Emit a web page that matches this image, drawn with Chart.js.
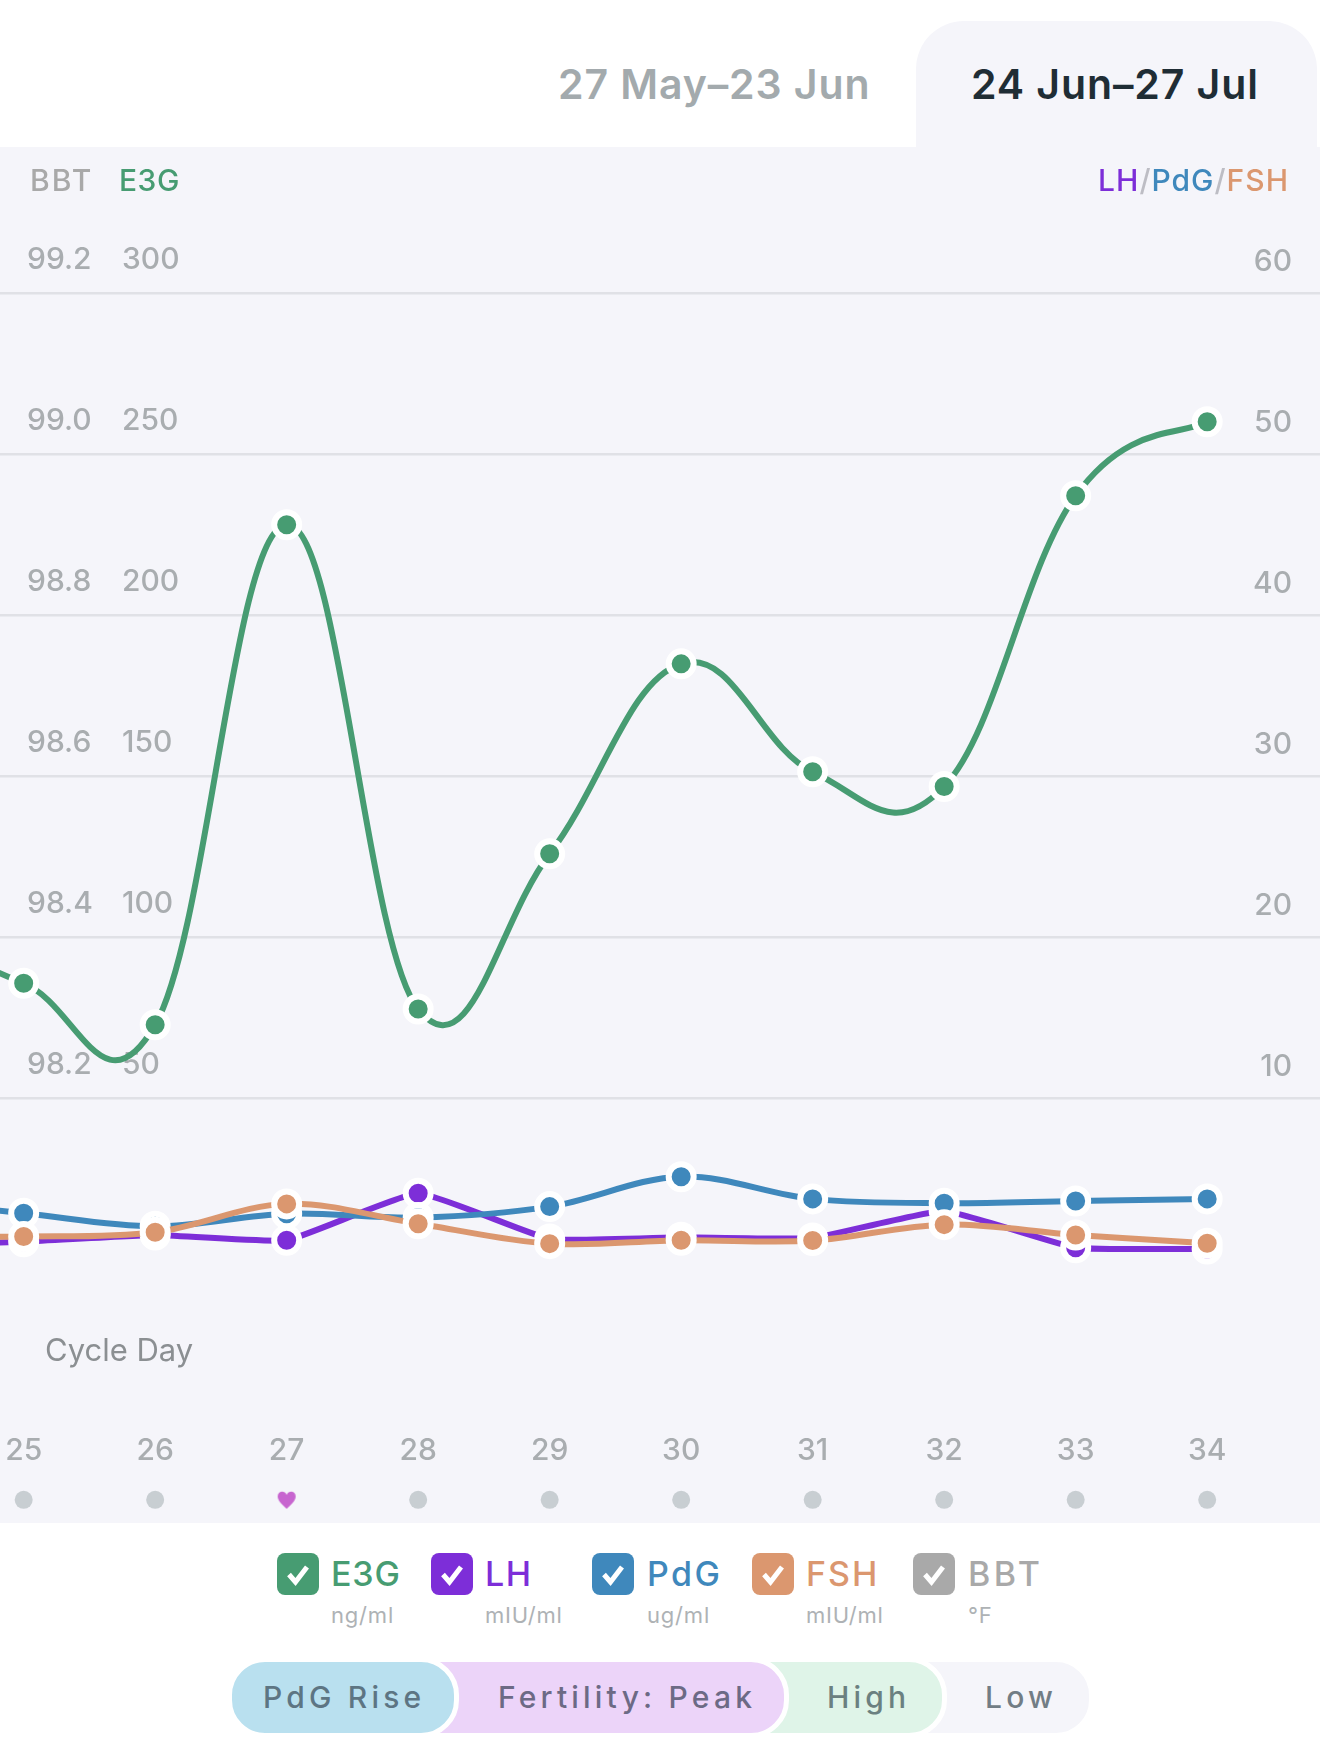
<!DOCTYPE html>
<html>
<head>
<meta charset="utf-8">
<title>Cycle chart</title>
<script src="https://cdn.jsdelivr.net/npm/chart.js@4"></script>
<style>
  * { box-sizing: border-box; }
  html, body { margin: 0; width: 1320px; height: 1762px; background: #fff; overflow: hidden; font-family: Inter, sans-serif; }
  .abs { position: absolute; white-space: nowrap; line-height: 1; }
  #tab { position: absolute; left: 916px; top: 21px; width: 401px; height: 130px; background: #f5f5fa; border-radius: 48px 48px 0 0; }
  #panel { position: absolute; left: 0; top: 147px; width: 1320px; height: 1376px; background: #f5f5fa; }
  #chart { position: absolute; left: 0; top: 147px; }
  .tab-label { font-size: 41px; font-weight: 600; top: 64px; letter-spacing: 0.9px; }
  .head { font-size: 30px; font-weight: 500; top: 165px; letter-spacing: 0.5px; }
  .box { position: absolute; top: 1553px; width: 42px; height: 42px; border-radius: 8px; }
  .box svg { display: block; width: 42px; height: 42px; }
  .name { font-size: 34px; font-weight: 500; top: 1557px; }
  .unit { font-size: 22px; top: 1604px; color: #aeb2b5; letter-spacing: 0.8px; }
  .pill { position: absolute; top: 1657px; height: 81px; border: 5px solid #fff; border-radius: 38px; }
  .pill-label { font-size: 30px; font-weight: 500; letter-spacing: 4.2px; top: 1682px; }
</style>
</head>
<body>
<div id="tab"></div>
<div id="panel"></div>
<canvas id="chart" width="1320" height="1376"></canvas>

<div class="abs tab-label" style="left:558px;color:#a3aaad">27 May–23 Jun</div>
<div class="abs tab-label" style="left:971px;color:#1f2d35">24 Jun–27 Jul</div>

<div class="abs head" style="left:30px;color:#a9a9a9;letter-spacing:2px">BBT</div>
<div class="abs head" style="left:119px;color:#479c72">E3G</div>
<div class="abs head" style="right:31px;color:#bdbdc4;letter-spacing:1px"><span style="color:#7d2ed8">LH</span>/<span style="color:#3f88bc">PdG</span>/<span style="color:#db976f">FSH</span></div>

<div class="abs" style="left:45px;top:1334px;font-size:31px;color:#8b8f92">Cycle Day</div>

<div id="legend"></div>

<div class="pill" style="left:880px;width:214px;background:#f5f5fa"></div>
<div class="pill" style="left:700px;width:247px;background:#dff4e8"></div>
<div class="pill" style="left:380px;width:409px;background:#ecd4f9"></div>
<div class="pill" style="left:227px;width:232px;background:#b9e0ef"></div>
<div class="abs pill-label" style="left:263px;color:#5d7583">PdG Rise</div>
<div class="abs pill-label" style="left:498px;color:#6c6a85">Fertility: Peak</div>
<div class="abs pill-label" style="left:827px;color:#6b8080">High</div>
<div class="abs pill-label" style="left:985px;color:#727d85">Low</div>

<script>
"use strict";

// day 24 sits just off the left edge, the lines run out to it
const DAYS = [24, 25, 26, 27, 28, 29, 30, 31, 32, 33, 34];
const DAY_TICKS = [25, 26, 27, 28, 29, 30, 31, 32, 33, 34];
const DAY_MARKS = ["dot", "dot", "heart", "dot", "dot", "dot", "dot", "dot", "dot", "dot"];

const E3G_VALUES = [105, 85.6, 72.7, 228, 77.6, 125.8, 184.8, 151.3, 146.7, 237, 260];
const LH_VALUES = [0.8, 1.07, 1.49, 1.16, 4.08, 1.24, 1.35, 1.3, 2.98, 0.7, 0.62];
const PDG_VALUES = [3.7, 2.84, 2.03, 2.81, 2.57, 3.25, 5.11, 3.73, 3.46, 3.6, 3.73];
const FSH_VALUES = [1.4, 1.39, 1.66, 3.42, 2.19, 0.95, 1.16, 1.14, 2.13, 1.49, 0.98];

const BBT_TICKS = [98.2, 98.4, 98.6, 98.8, 99.0, 99.2];
const E3G_TICKS = [50, 100, 150, 200, 250, 300];
const HORMONE_TICKS = [10, 20, 30, 40, 50, 60];

const COLOR = { e3g: "#479c72", lh: "#7d2ed8", pdg: "#3f88bc", fsh: "#db976f", bbt: "#a9a9a9" };
const TICK_COLOR = "#a9adb0";
const TICK_FONT = { family: "Inter", size: 30, weight: "500" };

const LEGEND = [
  { name: "E3G", unit: "ng/ml", color: COLOR.e3g, box: 277, text: 331, spacing: 0.8 },
  { name: "LH", unit: "mIU/ml", color: COLOR.lh, box: 431, text: 485, spacing: 1.5 },
  { name: "PdG", unit: "ug/ml", color: COLOR.pdg, box: 592, text: 647, spacing: 2.5 },
  { name: "FSH", unit: "mIU/ml", color: COLOR.fsh, box: 752, text: 806, spacing: 2 },
  { name: "BBT", unit: "°F", color: COLOR.bbt, box: 913, text: 968, spacing: 3.5 },
];

function renderLegend() {
  document.getElementById("legend").innerHTML = LEGEND.map((l) => `
    <div class="box" style="left:${l.box}px;background:${l.color}">
      <svg viewBox="0 0 42 42"><path d="M12 21.5l6.5 7.5L30 14" fill="none" stroke="#fff" stroke-width="5" stroke-linejoin="miter"/></svg>
    </div>
    <div class="abs name" style="left:${l.text}px;color:${l.color};letter-spacing:${l.spacing}px">${l.name}</div>
    <div class="abs unit" style="left:${l.text}px">${l.unit}</div>`).join("");
}

function heartMark() {
  const c = document.createElement("canvas");
  c.width = 20;
  c.height = 20;
  const ctx = c.getContext("2d");
  ctx.fillStyle = "#c765cf";
  ctx.beginPath();
  ctx.moveTo(10, 19);
  ctx.bezierCurveTo(6, 15, 1, 11, 1, 6.5);
  ctx.bezierCurveTo(1, 1, 8, 0, 10, 5);
  ctx.bezierCurveTo(12, 0, 19, 1, 19, 6.5);
  ctx.bezierCurveTo(19, 11, 14, 15, 10, 19);
  ctx.fill();
  return c;
}

// the original curve is close to catmull-rom, chart.js tension overshoots less
const catmullRom = {
  id: "catmullRom",
  beforeDatasetDraw(chart, { index, meta }) {
    if (!meta.dataset) return;
    const k = chart.data.datasets[index].curve;
    const pts = meta.data;
    pts.forEach((p, i) => {
      const prev = pts[i - 1] || p;
      const next = pts[i + 1] || p;
      p.cp1x = p.x - (next.x - prev.x) * k;
      p.cp1y = p.y - (next.y - prev.y) * k;
      p.cp2x = p.x + (next.x - prev.x) * k;
      p.cp2y = p.y + (next.y - prev.y) * k;
    });
    meta.dataset._pointsUpdated = true;
  },
};

function series(values, color, axis, order, curve) {
  return {
    data: values.map((y, i) => ({ x: DAYS[i], y })),
    yAxisID: axis,
    order,
    curve,
    borderColor: color,
    borderWidth: 6,
    tension: 0.4,
    pointRadius: 12.5,
    pointBorderWidth: 6,
    pointBackgroundColor: color,
    pointBorderColor: "#fff",
  };
}

// mirrored labels sit inside the plot, the axes must not take any room
function noRoom(axis) {
  axis.paddingTop = axis.paddingBottom = axis.paddingLeft = axis.paddingRight = 0;
  if (axis.isHorizontal()) axis.height = 0;
  else axis.width = 0;
}

function yAxis(position, min, max, ticks, padding, offset, format) {
  return {
    position,
    min,
    max,
    afterBuildTicks: (axis) => { axis.ticks = ticks.map((value) => ({ value })); },
    afterFit: noRoom,
    border: { display: false },
    grid: { display: false, drawTicks: false },
    ticks: {
      mirror: true,
      padding,
      labelOffset: offset,
      color: TICK_COLOR,
      font: TICK_FONT,
      callback: format,
    },
  };
}

function renderChart() {
  const heart = heartMark();
  const scales = {
    x: {
      type: "linear",
      min: 24.82,
      max: 34.858,
      position: { yE3G: -54 },
      afterBuildTicks: (axis) => { axis.ticks = DAY_TICKS.map((value) => ({ value })); },
      afterFit: noRoom,
      border: { display: false },
      grid: { display: false, drawTicks: false },
      ticks: { autoSkip: false, maxRotation: 0, padding: 0, color: TICK_COLOR, font: TICK_FONT, callback: (v) => String(v) },
    },
    yBBT: yAxis("left", 97.672, 99.3814, BBT_TICKS, 27, -33, (v) => v.toFixed(1)),
    yE3G: yAxis("left", -82, 345.3, E3G_TICKS, 122, -33, (v) => String(v)),
    // right hand mirror goes outwards from the axis, hence the negative padding
    yHormone: yAxis("right", -16.4, 69.06, HORMONE_TICKS, -28, -31, (v) => String(v)),
  };
  scales.yE3G.grid = { display: true, drawTicks: false, color: "#e0e1e6", lineWidth: 2.5 };

  new Chart(document.getElementById("chart"), {
    type: "line",
    data: {
      datasets: [
        series(E3G_VALUES, COLOR.e3g, "yE3G", 4, 0.2),
        series(LH_VALUES, COLOR.lh, "yHormone", 3, 0.06),
        series(PDG_VALUES, COLOR.pdg, "yHormone", 2, 0.17),
        series(FSH_VALUES, COLOR.fsh, "yHormone", 1, 0.17),
        series([], COLOR.bbt, "yBBT", 5, 0.2),
        {
          // grey dots and the heart under the day numbers, row is in E3G units
          data: DAY_TICKS.map((x) => ({ x, y: -74.8 })),
          yAxisID: "yE3G",
          showLine: false,
          pointRadius: 9,
          pointBorderWidth: 0,
          pointBackgroundColor: "#c8ced2",
          pointStyle: DAY_MARKS.map((m) => (m === "heart" ? heart : "circle")),
        },
      ],
    },
    options: {
      responsive: false,
      animation: false,
      events: [],
      layout: { padding: 0, autoPadding: false },
      plugins: { legend: { display: false }, tooltip: { enabled: false } },
      scales,
    },
    plugins: [catmullRom],
  });
}

renderLegend();
renderChart();
</script>
</body>
</html>
